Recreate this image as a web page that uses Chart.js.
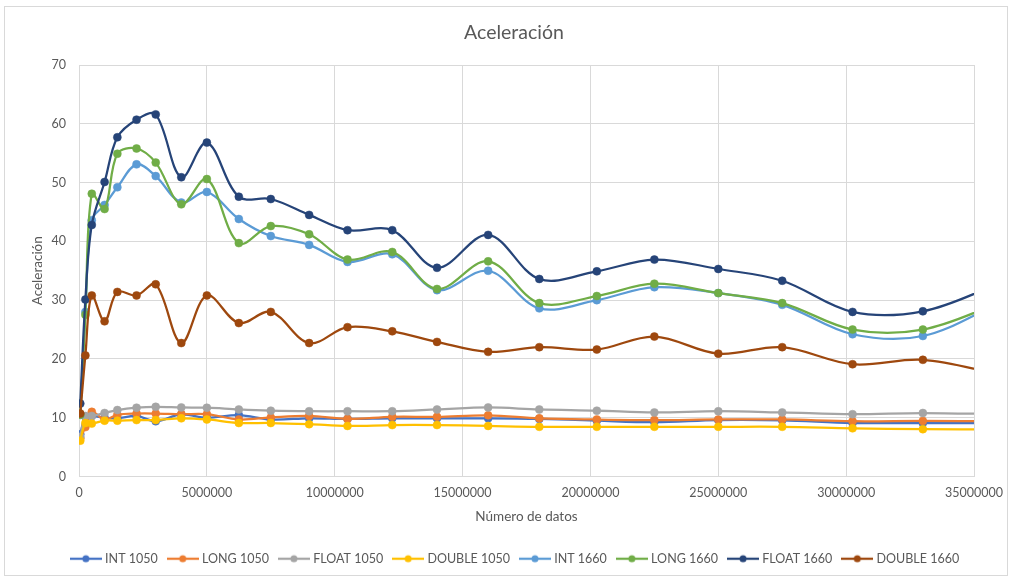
<!DOCTYPE html>
<html>
<head>
<meta charset="utf-8">
<script src="https://cdn.jsdelivr.net/npm/chart.js@4.4.1/dist/chart.umd.min.js"></script>
<style>
  html, body { margin: 0; padding: 0; background: #fff; }
  #wrap { width: 1012px; height: 579px; }
</style>
</head>
<body>
<div id="wrap"><canvas id="chart" width="1012" height="579"></canvas></div>
<script>
// ── Data ──────────────────────────────────────────
const xValues = [50000, 250000, 500000, 1000000, 1500000, 2250000, 3000000, 4000000,
  5000000, 6250000, 7500000, 9000000, 10500000, 12250000, 14000000, 16000000,
  18000000, 20250000, 22500000, 25000000, 27500000, 30250000, 33000000, 36000000];

const int1050 = [7.2, 10.2, 10.3, 10.0, 9.9, 10.3, 9.4, 10.55, 10.0, 10.45, 9.7, 9.9,
  9.8, 9.9, 9.9, 9.9, 9.8, 9.5, 9.25, 9.6, 9.55, 9.1, 9.1, 9.1];
const long1050 = [6.5, 8.4, 11.0, 9.7, 10.5, 10.7, 10.7, 10.6, 10.6, 9.7, 10.05, 10.3,
  9.8, 10.15, 10.15, 10.4, 9.9, 9.7, 9.6, 9.7, 9.7, 9.4, 9.45, 9.4];
const float1050 = [6.75, 10.3, 10.3, 10.8, 11.3, 11.7, 11.85, 11.75, 11.7, 11.4, 11.2, 11.1,
  11.1, 11.1, 11.4, 11.75, 11.4, 11.2, 10.9, 11.1, 10.9, 10.6, 10.8, 10.6];
const double1050 = [6.1, 9.1, 9.0, 9.5, 9.5, 9.6, 9.6, 9.9, 9.7, 9.1, 9.1, 8.9,
  8.6, 8.75, 8.75, 8.6, 8.45, 8.45, 8.45, 8.45, 8.45, 8.2, 8.05, 8.0];
const int1660 = [10.5, 28.0, 43.6, 46.2, 49.2, 53.1, 51.1, 46.6, 48.4, 43.8, 40.9, 39.4,
  36.5, 37.8, 31.7, 35.0, 28.6, 30.0, 32.2, 31.2, 29.2, 24.2, 23.9, 29.5];
const long1660 = [10.5, 27.5, 48.1, 45.5, 54.9, 55.8, 53.4, 46.3, 50.6, 39.7, 42.6, 41.2,
  36.9, 38.2, 31.9, 36.6, 29.5, 30.7, 32.8, 31.2, 29.5, 25.0, 25.0, 29.5];
const float1660 = [12.4, 30.1, 42.8, 50.1, 57.7, 60.7, 61.6, 50.9, 56.8, 47.6, 47.2, 44.5,
  41.9, 41.9, 35.5, 41.1, 33.6, 34.9, 36.9, 35.3, 33.3, 28.0, 28.1, 32.8];
const double1660 = [10.7, 20.6, 30.8, 26.4, 31.4, 30.8, 32.7, 22.7, 30.8, 26.1, 28.0, 22.7,
  25.4, 24.7, 22.9, 21.2, 22.0, 21.6, 23.8, 20.9, 22.0, 19.1, 19.85, 17.4];

const seriesNames = ['INT 1050', 'LONG 1050', 'FLOAT 1050', 'DOUBLE 1050',
  'INT 1660', 'LONG 1660', 'FLOAT 1660', 'DOUBLE 1660'];
const seriesValues = [int1050, long1050, float1050, double1050,
  int1660, long1660, float1660, double1660];
const seriesColors = ['#4472C4', '#ED7D31', '#A5A5A5', '#FFC000',
  '#5B9BD5', '#70AD47', '#264478', '#9E480E'];

const xTickValues = [0, 5000000, 10000000, 15000000, 20000000, 25000000, 30000000, 35000000];
const yTickValues = [0, 10, 20, 30, 40, 50, 60, 70];

const TEXT = '#595959';
const GRID = '#d9d9d9';
const FONT = 'Lato, "Open Sans", sans-serif';

// ── Legend markers: short line with a dot ─────────
function legendMarker(color) {
  const c = document.createElement('canvas');
  c.width = 32; c.height = 10;
  const g = c.getContext('2d');
  g.strokeStyle = color;
  g.lineWidth = 2.25;
  g.beginPath(); g.moveTo(0, 5); g.lineTo(32, 5); g.stroke();
  g.fillStyle = color;
  g.beginPath(); g.arc(16, 5, 3.5, 0, Math.PI * 2); g.fill();
  return c;
}
const markers = seriesColors.map(legendMarker);

// ── Frame + title drawn on the canvas ─────────────
const framePlugin = {
  id: 'frame',
  afterLayout(chart) {
    // Excel centres the legend a bit right of the canvas middle
    if (chart.legend) { chart.legend.left += 16; chart.legend.right += 16; }
  },
  beforeDraw(chart) {
    const ctx = chart.ctx;
    ctx.save();
    ctx.fillStyle = '#fff';
    ctx.fillRect(0, 0, chart.width, chart.height);
    ctx.strokeStyle = GRID;
    ctx.lineWidth = 1;
    ctx.strokeRect(4.5, 6.5, 1003, 569);
    ctx.fillStyle = TEXT;
    ctx.font = '19.5px ' + FONT;
    ctx.textAlign = 'center';
    ctx.textBaseline = 'middle';
    ctx.fillText('Aceleración', 514, 33);
    ctx.restore();
  },
};

const datasets = seriesNames.map((name, i) => ({
  label: name,
  data: xValues.map((x, k) => ({ x, y: seriesValues[i][k] })),
  borderColor: seriesColors[i],
  backgroundColor: seriesColors[i],
  pointBackgroundColor: seriesColors[i],
  pointBorderColor: seriesColors[i],
  borderWidth: 2.25,
  pointRadius: 4,
  pointBorderWidth: 0.5,
  tension: 0.35,
  fill: false,
  order: seriesNames.length - i,
}));

Chart.defaults.font.family = FONT;
Chart.defaults.color = TEXT;

new Chart(document.getElementById('chart').getContext('2d'), {
  type: 'line',
  data: { datasets },
  plugins: [framePlugin],
  options: {
    responsive: false,
    animation: false,
    devicePixelRatio: 1,
    layout: { padding: { top: 65, left: 26, right: 38, bottom: 4 } },
    plugins: {
      tooltip: { enabled: false },
      title: { display: false },
      legend: {
        display: true,
        position: 'bottom',
        labels: {
          usePointStyle: true,
          pointStyleWidth: 26,
          boxHeight: 10,
          padding: 12,
          color: TEXT,
          font: { size: 12.5 },
          generateLabels(chart) {
            const items = Chart.defaults.plugins.legend.labels.generateLabels(chart);
            items.sort((a, b) => a.datasetIndex - b.datasetIndex);
            items.forEach((it) => { it.pointStyle = markers[it.datasetIndex]; });
            return items;
          },
        },
      },
    },
    scales: {
      x: {
        type: 'linear',
        min: 0,
        max: 35000000,
        afterFit: (s) => { s.height = 64; },
        afterBuildTicks: (s) => { s.ticks = xTickValues.map((v) => ({ value: v })); },
        grid: { color: GRID, drawTicks: false },
        border: { color: GRID },
        ticks: { padding: 9, maxRotation: 0, font: { size: 12.5 }, callback: (v) => String(v) },
        title: { display: true, text: 'Número de datos', font: { size: 13.5 }, padding: { top: 4, bottom: 16 } },
      },
      y: {
        min: 0,
        max: 70,
        afterFit: (s) => { s.width = 79 - 26; },
        afterBuildTicks: (s) => { s.ticks = yTickValues.map((v) => ({ value: v })); },
        grid: { color: GRID, drawTicks: false },
        border: { color: GRID },
        ticks: { padding: 13, font: { size: 12.5 } },
        title: { display: true, text: 'Aceleración', font: { size: 13.5 } },
      },
    },
  },
});
</script>
</body>
</html>
